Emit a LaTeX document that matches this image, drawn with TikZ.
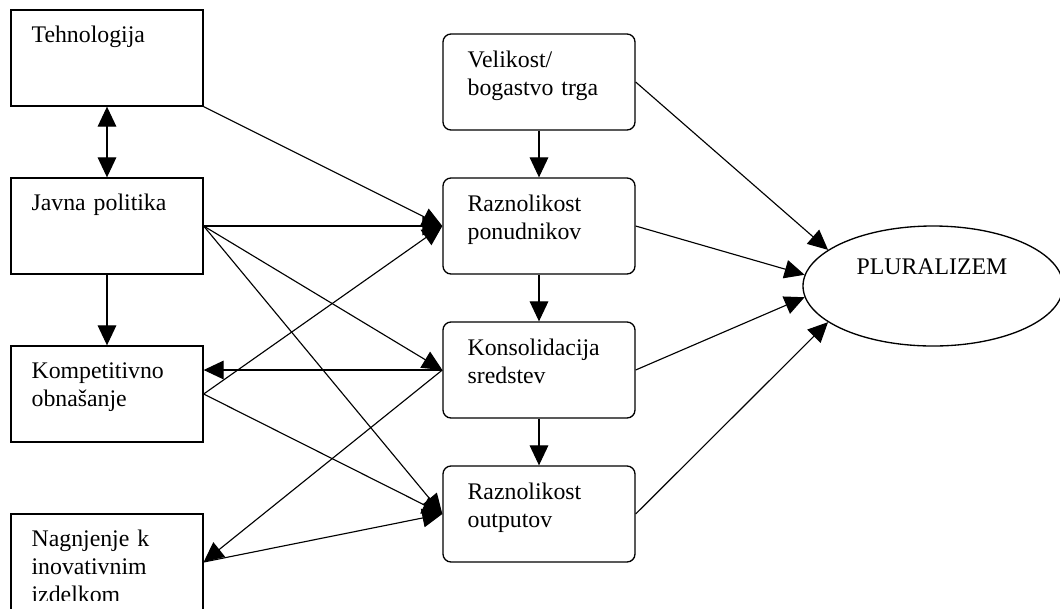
\documentclass[tikz,border=0pt]{standalone}
\usepackage{fontspec}
\setmainfont{Liberation Serif}
\usetikzlibrary{arrows.meta,shapes.geometric}
\begin{document}
\begin{tikzpicture}[x=0.75pt,y=-0.75pt,
  sqbox/.style={draw,line width=1pt,minimum width=144pt,minimum height=72pt,inner sep=0pt},
  rbox/.style={sqbox,rounded corners=6pt},
  lbl/.style={anchor=base west,inner sep=0pt,text width=140pt,align=left,font=\fontsize{17.85}{21.2}\selectfont},
  ptxt/.style={anchor=base,inner sep=0pt,font=\fontsize{17.85}{21.2}\selectfont},
  arr/.style={line width=0.85pt,-{Triangle[length=15pt,width=14pt]}},
  darr/.style={line width=0.85pt,{Triangle[length=15pt,width=14pt]}-{Triangle[length=15pt,width=14pt]}}]
\useasboundingbox (0,0) rectangle (1060,608);
\clip (0,0) rectangle (1060,608);

% left column
\node[sqbox] (tech) at (107,58) {};
\node[sqbox] (javna) at (107,226) {};
\node[sqbox] (komp) at (107,394) {};
\node[sqbox] (nagn) at (107,562) {};
% middle column
\node[rbox] (vel) at (539,82) {};
\node[rbox] (pon) at (539,226) {};
\node[rbox] (kons) at (539,370) {};
\node[rbox] (out) at (539,514) {};
% ellipse
\node[draw,ellipse,line width=1pt,minimum width=195pt,minimum height=90pt,inner sep=0pt] (plur) at (933,286) {};

% texts
\node[lbl] (tTech) at ([shift={(21,33)}]tech.north west) {Tehnologija};
\node[lbl] (tJavna) at ([shift={(21,33)}]javna.north west) {Javna politika};
\node[lbl] (tKomp) at ([shift={(21,33)}]komp.north west) {Kompetitivno\\obnašanje};
\begin{scope}
\clip (11,514) rectangle (203,600);
\node[lbl] (tNagn) at ([shift={(21,33)}]nagn.north west) {Nagnjenje k\\inovativnim\\izdelkom};
\end{scope}
\node[lbl] (tVel) at ([shift={(25,34)}]vel.north west) {Velikost/\\bogastvo trga};
\node[lbl] (tPon) at ([shift={(25,34)}]pon.north west) {Raznolikost\\ponudnikov};
\node[lbl] (tKons) at ([shift={(25,34)}]kons.north west) {Konsolidacija\\sredstev};
\node[lbl] (tOut) at ([shift={(25,34)}]out.north west) {Raznolikost\\outputov};
\node[ptxt] (tPlur) at (932,274) {PLURALIZEM};

% left column vertical
\draw[darr] (tech.south) -- (javna.north);
\draw[arr] (javna.south) -- (komp.north);
% middle column vertical
\draw[arr] (vel.south) -- (pon.north);
\draw[arr] (pon.south) -- (kons.north);
\draw[arr] (kons.south) -- (out.north);

% left to middle
\draw[arr] (tech.south east) -- (pon.west);
\draw[arr] (javna.east) -- (pon.west);
\draw[arr] (javna.east) -- (kons.west);
\draw[arr] (javna.east) -- (out.west);
\draw[arr] (komp.east) -- (pon.west);
\draw[arr] (komp.east) -- (out.west);
\draw[arr] (nagn.east) -- (out.west);
\draw[arr] (kons.west) -- (kons.west -| komp.east);
\draw[arr] (kons.west) -- (nagn.east);

% to pluralizem
\draw[arr] (vel.east) -- (plur.161);
\draw[arr] (pon.east) -- (plur.175);
\draw[arr] (kons.east) -- (plur.185);
\draw[arr] (out.east) -- (plur.199);
\end{tikzpicture}
\end{document}
